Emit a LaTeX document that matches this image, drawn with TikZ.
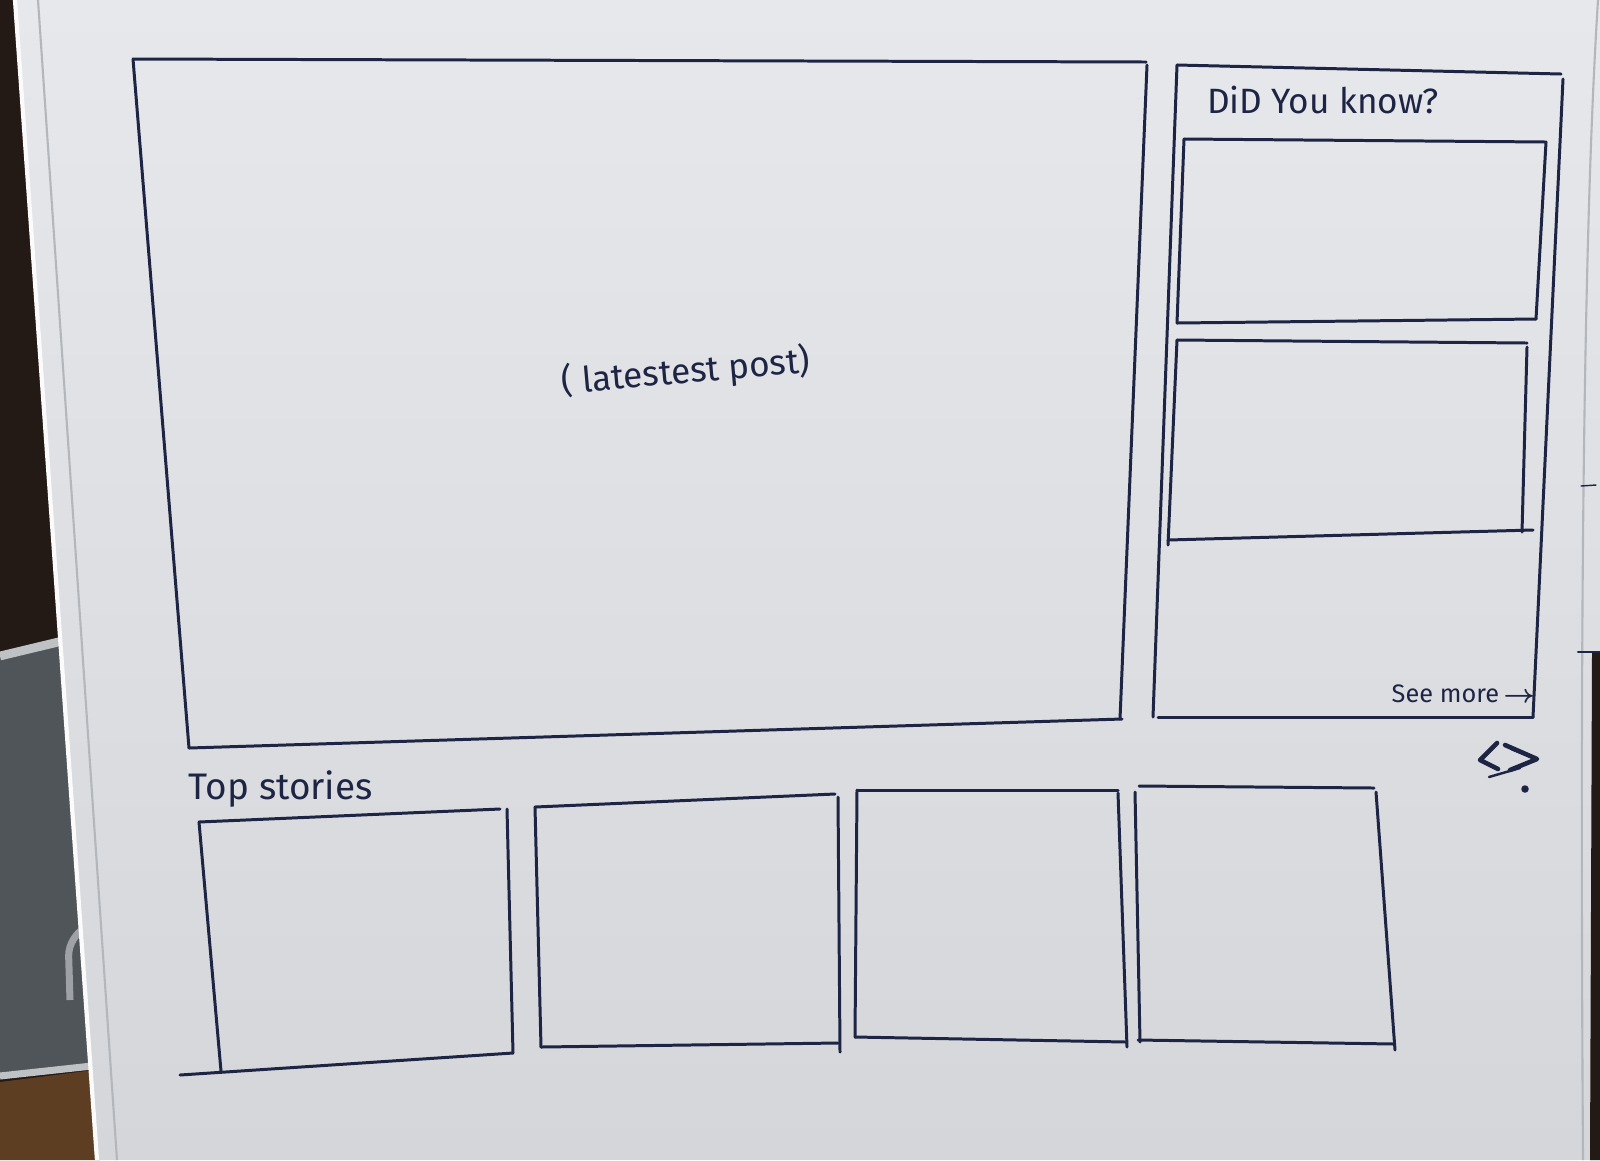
\documentclass[tikz,border=0pt]{standalone}
\usepackage{amsmath}
\usepackage{fontspec}
\setmainfont{Fira Sans}
\usetikzlibrary{calc}

\definecolor{ink}{HTML}{1E2444}
\definecolor{papertop}{HTML}{E7E8EC}
\definecolor{paperbot}{HTML}{D4D6DA}
\definecolor{bgdark}{HTML}{231915}
\definecolor{device}{HTML}{50555A}
\definecolor{devrim}{HTML}{BFC2C5}
\definecolor{floorbrown}{HTML}{5E3E22}
\definecolor{edgegrey}{HTML}{B3B6BA}

\begin{document}
\begin{tikzpicture}[x=0.01cm,y=-0.01cm,
  ink/.style={draw=ink,line width=0.85pt,line cap=round,line join=round},
  hand/.style={text=ink,inner sep=0pt},
  paperedge/.style={draw=edgegrey,line width=0.6pt}]
\useasboundingbox (0,0) rectangle (1600,1160);

% --- desk and surroundings behind the sheet ---
\fill[bgdark] (0,0) rectangle (1600,1160);
\fill[device] (0,652) -- (75,636) -- (92,1066) -- (0,1078) -- cycle;
\draw[devrim,line width=2.5pt] (0,656) -- (75,638);
\draw[devrim,line width=2pt] (0,1076) -- (92,1066);
\draw[devrim!70!device,line width=2pt,rounded corners=6pt] (70,1000) -- (68,935) -- (84,928);
\fill[floorbrown] (0,1082) -- (94,1070) -- (100,1160) -- (0,1160) -- cycle;

% --- the sheet of paper ---
\shade[top color=papertop,bottom color=paperbot]
  (15,0) -- (1600,0) -- (1600,1160) -- (97,1160) -- cycle;
\fill[bgdark] (1592,652) -- (1600,652) -- (1600,1160) -- (1590,1160) -- cycle;
\draw[white!85!papertop,line width=1.2pt] (15,0) -- (97,1160);
\draw[paperedge] (38,0) -- (117,1160);
\draw[paperedge] (1598,0) .. controls (1582,250) and (1580,700) .. (1583,1160);
\draw[ink,line width=0.6pt] (1578,652) -- (1600,652);
\draw[ink,line width=0.4pt] (1581,486) -- (1596,485);

% --- main post area ---
\coordinate (mTL) at (133,59);  \coordinate (mTR) at (1146,62);
\coordinate (mBR) at (1120,719); \coordinate (mBL) at (189,748);
\draw[ink] (mTL) -- (mTR);
\draw[ink] (1147,65) -- (mBR);
\draw[ink] (1122,719) -- (mBL);
\draw[ink] (mBL) -- (mTL);
\node[hand,font=\fontsize{10}{12}\selectfont,rotate=5] (latest) at (686,372) {( latestest post)};

% --- side panel ---
\coordinate (pTL) at (1177,65);  \coordinate (pTR) at (1561,74);
\coordinate (pBR) at (1533,717); \coordinate (pBL) at (1153,717);
\draw[ink] (pTL) -- (pTR);
\draw[ink] (1563,79) -- (pBR);
\draw[ink] (1158,717) -- (pBR);
\draw[ink] (pTL) -- (pBL);
\node[hand,font=\fontsize{10}{12}\selectfont,anchor=base] (know) at (1323,113) {DiD You know?};

% first card in the side panel
\coordinate (aTL) at (1184,139); \coordinate (aTR) at (1546,142);
\coordinate (aBR) at (1536,319); \coordinate (aBL) at (1177,323);
\draw[ink] (aTL) -- (aTR) -- (aBR);
\draw[ink] (aBR) -- (aBL);
\draw[ink] (aTL) -- (aBL);

% second card in the side panel
\coordinate (bTL) at (1177,340); \coordinate (bTR) at (1527,343);
\coordinate (bBR) at (1522,532); \coordinate (bBL) at (1168,540);
\draw[ink] (bTL) -- (bTR);
\draw[ink] (1527,347) -- (bBR);
\draw[ink] (bBL) -- (1533,530);
\draw[ink] (bTL) -- (1168,545);

\node[hand,font=\fontsize{7.2}{9}\selectfont,anchor=base west] (more) at (1391,702) {See more\,$\boldsymbol{\rightarrow}$};

% code toggle mark
\draw[ink,line width=1.3pt] (1497,743) -- (1480,760) -- (1498,769);
\draw[ink,line width=1.3pt] (1505,745) -- (1537,759) -- (1510,770);
\draw[ink,line width=0.9pt] (1512,749) -- (1533,757);
\draw[ink,line width=0.7pt] (1489,777) -- (1520,768);
\fill[ink] (1525,789) circle (2.2);

% --- top stories row ---
\node[hand,font=\fontsize{10.5}{12}\selectfont,anchor=base west] (stories) at (188,799) {Top stories};

% story card 1
\coordinate (s1TL) at (199,822); \coordinate (s1TR) at (507,809);
\coordinate (s1BR) at (513,1053); \coordinate (s1BL) at (221,1071);
\draw[ink] (s1TL) -- (500,809);
\draw[ink] (s1TR) -- (s1BR);
\draw[ink] (s1BR) -- (180,1075);
\draw[ink] (s1TL) -- (s1BL);

% story card 2
\coordinate (s2TL) at (535,807); \coordinate (s2TR) at (835,794);
\coordinate (s2BR) at (838,1043); \coordinate (s2BL) at (541,1047);
\draw[ink] (s2TL) -- (s2TR);
\draw[ink] (838,797) -- (840,1052);
\draw[ink] (s2BL) -- (s2BR);
\draw[ink] (s2TL) -- (s2BL);

% story card 3
\coordinate (s3TL) at (857,790); \coordinate (s3TR) at (1118,790);
\coordinate (s3BR) at (1126,1042); \coordinate (s3BL) at (855,1037);
\draw[ink] (s3TL) -- (s3TR);
\draw[ink] (1118,793) -- (1127,1047);
\draw[ink] (s3BL) -- (s3BR);
\draw[ink] (s3TL) -- (s3BL);

% story card 4
\coordinate (s4TL) at (1139,786); \coordinate (s4TR) at (1374,788);
\coordinate (s4BR) at (1394,1044); \coordinate (s4BL) at (1138,1040);
\draw[ink] (s4TL) -- (s4TR);
\draw[ink] (1376,792) -- (1395,1050);
\draw[ink] (s4BL) -- (s4BR);
\draw[ink] (1135,792) -- (1140,1042);
\end{tikzpicture}
\end{document}
